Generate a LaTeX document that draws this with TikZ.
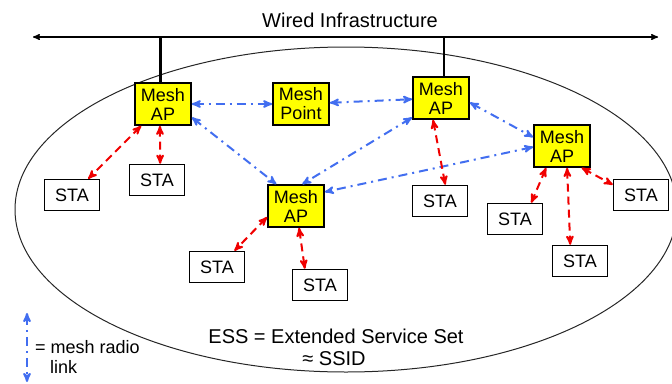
\documentclass[tikz,border=0pt]{standalone}
\usepackage{fontspec}
\setmainfont{Liberation Sans}
\usetikzlibrary{arrows}
\usetikzlibrary{calc}
\usepackage{xcolor}

\definecolor{meshblue}{RGB}{66,110,240}
\definecolor{stared}{RGB}{240,0,0}
\definecolor{meshyellow}{RGB}{255,255,0}

\tikzset{
 meshbox/.style={draw=black, line width=1.7pt, fill=meshyellow, minimum width=56pt, minimum height=42pt, inner sep=0pt, align=center, font=\fontsize{18}{19}\selectfont},
 stabox/.style={draw=black, line width=1.5pt, fill=white, minimum width=55pt, minimum height=31pt, inner sep=0pt, font=\fontsize{18}{19}\selectfont},
 radio/.style={meshblue, line width=2pt, dash pattern=on 9pt off 5pt on 2pt off 5pt, <->, >=stealth'},
 wlan/.style={stared, line width=2pt, dash pattern=on 8pt off 5pt, <->, >=stealth'},
 label/.style={font=\fontsize{20}{22}\selectfont, inner sep=0pt},
}

\begin{document}
\begin{tikzpicture}[x=1pt, y=-1pt]
\useasboundingbox (0,0) rectangle (672,383);
\clip (0,0) rectangle (672,383);

% ESS
\draw[black!85, line width=1pt] (346,209.5) ellipse [x radius=331pt, y radius=162.5pt];

% wired backbone
\node[label] (wired) at (350,20) {Wired Infrastructure};
\coordinate (wl) at (33,37);
\coordinate (wr) at (658,37);
\draw[black, line width=1.4pt, <->, >=stealth'] (wl)--(wr);

% mesh nodes
\node[meshbox] (ap1) at (163,104) {Mesh\\AP};
\node[meshbox] (mp) at (301,104) {Mesh\\Point};
\node[meshbox] (ap2) at (441,98) {Mesh\\AP};
\node[meshbox] (ap3) at (562,146) {Mesh\\AP};
\node[meshbox] (ap4) at (296,206) {Mesh\\AP};

\foreach \n/\x/\y in {sta1/72/195, sta2/157/180, sta3/440/201, sta4/515/219,
 sta5/641/195, sta6/580/261, sta7/217/267, sta8/320/285} {
 \node[stabox] (\n) at (\x,\y) {STA};
}

\draw[black, line width=2.6pt] (ap1.97)--(ap1.97 |- wl);
\draw[black, line width=2.6pt] (ap2.82)--(ap2.82 |- wl);

% mesh radio links
\foreach \a/\b in {ap1/mp, mp/ap2, ap1.-25/ap4.132, ap2.214/ap4.74,
 ap3.182/ap4.26, ap2.-9/ap3.163} {
 \draw[radio] (\a)--(\b);
}

% station links
\foreach \a/\b in {ap1/sta1, ap1.262/sta2.79, ap2.250/sta3.72, ap3.234/sta4.45,
 ap3.283/sta6.121, ap3.312/sta5.160, ap4.201/sta7.43, ap4.278/sta8.133} {
 \draw[wlan] (\a)--(\b);
}

% legend
\coordinate (legtop) at (27,313);
\coordinate (legbot) at (27,382);
\draw[radio] (legtop)--(legbot);
\node[font=\fontsize{18}{20}\selectfont, anchor=base west, inner sep=0pt] (leg) at (35,353) {= mesh radio};
\node[font=\fontsize{18}{20}\selectfont, anchor=base west, inner sep=0pt] (leglink) at (50,373) {link};

\node[label, anchor=base] (ess) at (336,343) {ESS = Extended Service Set};
\node[label, anchor=base] (ssid) at (334,365) {≈ SSID};
\end{tikzpicture}
\end{document}
